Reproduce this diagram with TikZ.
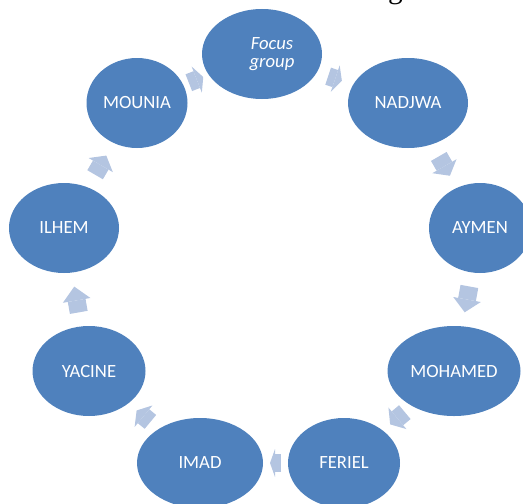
\documentclass[tikz,border=0pt]{standalone}
\usepackage{fontspec}
\setmainfont{Carlito}
\newfontfamily\serifcut{Liberation Serif}
\usetikzlibrary{shapes.geometric,arrows.meta}

\definecolor{bubbleblue}{RGB}{79,129,189}
\definecolor{arrowblue}{RGB}{180,197,225}

\tikzset{
    bubble/.style={ellipse, fill=bubbleblue, text=white, inner sep=0pt,
        outer sep=0pt, minimum height=67.5pt,
        font=\fontsize{14}{13.5}\selectfont},
    cuttext/.style={anchor=base, inner sep=0pt,
        font=\serifcut\fontsize{22}{26}\selectfont},
    flow/.style={draw=arrowblue, line width=13.5pt}
}

% one cycle arrow: from, to, shorten, tip length
\newcommand{\cycarrow}[4]{
    \draw[flow, shorten <=#3, shorten >=#3,
        -{Triangle[width=21pt, length=#4, line width=0pt]}] (#1) -- (#2);
}

\begin{document}
\begin{tikzpicture}[x=0.75pt, y=-0.75pt]
    \useasboundingbox (0,0) rectangle (523,503);

    % tail of the caption above, cut off by the page
    \node[cuttext] (captiontail) at (395.5,-1.5) {g};

    \node[bubble, minimum width=90pt,
        label={[text=white, align=center, xshift=7.5pt,
            font=\itshape\fontsize{14}{13.5}\selectfont]center:Focus\\group}]
        (focus) at (262,54) {};
    \node[bubble, minimum width=90pt]    (nadjwa)  at (408,103) {NADJWA};
    \node[bubble, minimum width=76.5pt]  (aymen)   at (480,228) {AYMEN};
    \node[bubble, minimum width=99.75pt] (mohamed) at (454,371) {MOHAMED};
    \node[bubble, minimum width=84pt]    (feriel)  at (344,463) {FERIEL};
    \node[bubble, minimum width=94.5pt]  (imad)    at (200,463) {IMAD};
    \node[bubble, minimum width=84.75pt] (yacine)  at (89,371)  {YACINE};
    \node[bubble, minimum width=82.5pt]  (ilhem)   at (64,228)  {ILHEM};
    \node[bubble, minimum width=75.75pt] (mounia)  at (137,103) {MOUNIA};

    \cycarrow{focus}{nadjwa}{9pt}{5.25pt}
    \cycarrow{nadjwa}{aymen}{10.5pt}{8.25pt}
    \cycarrow{aymen}{mohamed}{10.7pt}{9.75pt}
    \cycarrow{mohamed}{feriel}{7.2pt}{7.1pt}
    \cycarrow{feriel}{imad}{5.25pt}{3.75pt}
    \cycarrow{imad}{yacine}{8.25pt}{6.75pt}
    \cycarrow{yacine}{ilhem}{10.7pt}{10.5pt}
    \cycarrow{ilhem}{mounia}{11pt}{8.25pt}
    \cycarrow{mounia}{focus}{4.5pt}{5.25pt}
\end{tikzpicture}
\end{document}
